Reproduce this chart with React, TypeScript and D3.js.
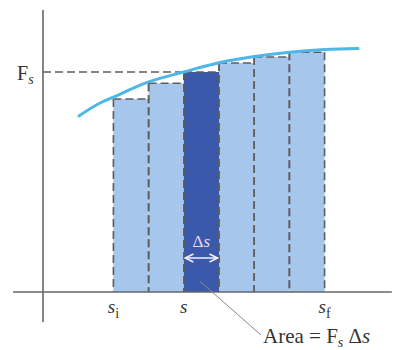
import React from "react";
import * as d3 from "d3";

// ---- data ----
const barStarts = [2, 3, 4, 5, 6, 7];
const barHeights = [8.77, 9.49, 10, 10.41, 10.68, 10.9];
const highlightIndex = 2;
const barWidth = 1;
const curveS = [1.02, 1.62, 2, 3, 4, 5, 6, 7, 8, 8.95];
const curveF = [8.0, 8.59, 8.86, 9.55, 10.0, 10.42, 10.7, 10.9, 11.02, 11.07];
const tickS = [2, 4, 8];
const tickMain = ["s", "s", "s"];
const tickSub = ["i", "", "f"];
const Fs = 10;

const W = 397;
const H = 350;

export default function App() {
  const x = d3.scaleLinear().domain([0, 1]).range([43, 78.2]);
  const y = d3.scaleLinear().domain([0, 10]).range([292, 72]);

  const line = d3
    .line<number>()
    .x((_, i) => x(curveS[i]))
    .y((d) => y(d))
    .curve(d3.curveMonotoneX);

  const dash = "8,4";
  const dashColor = "#5d5d5d";
  const serif = "'Liberation Serif', 'DejaVu Serif', serif";

  const hs = barStarts[highlightIndex];
  const arrowY = 258;
  const ax1 = x(hs) + 1.5;
  const ax2 = x(hs + barWidth) - 1.5;

  return (
    <svg
      width={W}
      height={H}
      style={{ position: "absolute", left: 0, top: 0, background: "#fff" }}
      fontFamily={serif}
    >
      {/* bars */}
      {barStarts.map((s, i) => (
        <rect
          key={"b" + i}
          x={x(s)}
          y={y(barHeights[i])}
          width={x(s + barWidth) - x(s)}
          height={y(0) - y(barHeights[i])}
          fill={i === highlightIndex ? "#3b59ab" : "#a6c6eb"}
        />
      ))}
      {/* dashed outlines */}
      {barStarts.map((s, i) => (
        <g key={"o" + i} stroke={dashColor} strokeWidth={1.6} strokeDasharray={dash} fill="none">
          <line x1={x(s)} x2={x(s + barWidth)} y1={y(barHeights[i])} y2={y(barHeights[i])} />
          <line x1={x(s)} x2={x(s)} y1={y(barHeights[i])} y2={y(0)} />
          <line
            x1={x(s + barWidth)}
            x2={x(s + barWidth)}
            y1={y(Math.max(barHeights[i], barHeights[i + 1] ?? 0))}
            y2={y(0)}
          />
        </g>
      ))}
      {/* Fs dashed line */}
      <line
        x1={x(0)}
        x2={x(hs)}
        y1={y(Fs)}
        y2={y(Fs)}
        stroke={dashColor}
        strokeWidth={1.6}
        strokeDasharray={dash}
      />
      {/* axes */}
      <line x1={x(-0.85)} x2={x(9.91)} y1={y(0)} y2={y(0)} stroke="#666" strokeWidth={1.6} />
      <line x1={x(0)} x2={x(0)} y1={y(12.82)} y2={y(-1.36)} stroke="#666" strokeWidth={1.6} />
      {/* curve */}
      <path d={line(curveF) || ""} fill="none" stroke="#4db7e8" strokeWidth={3} strokeLinecap="round" />
      {/* delta s arrow */}
      <g stroke="#f4f0fa" strokeWidth={1.6} fill="none">
        <line x1={ax1} x2={ax2} y1={arrowY} y2={arrowY} />
        <polyline points={`${ax1 + 8},${arrowY - 4} ${ax1},${arrowY} ${ax1 + 8},${arrowY + 4}`} />
        <polyline points={`${ax2 - 8},${arrowY - 4} ${ax2},${arrowY} ${ax2 - 8},${arrowY + 4}`} />
      </g>
      <text x={x(hs + barWidth / 2)} y={247} textAnchor="middle" fontSize={17} fill="#ead8f2">
        Δ<tspan fontStyle="italic">s</tspan>
      </text>
      {/* Fs label */}
      <text x={17} y={80} fontSize={20} fill="#333">
        F
        <tspan fontStyle="italic" fontSize={14} dy={4}>
          s
        </tspan>
      </text>
      {/* tick labels */}
      {tickS.map((s, i) => (
        <text key={"t" + i} x={x(s)} y={313} textAnchor="middle" fontSize={19} fill="#333">
          <tspan fontStyle="italic">{tickMain[i]}</tspan>
          {tickSub[i] && (
            <tspan fontSize={14} dy={5}>
              {tickSub[i]}
            </tspan>
          )}
        </text>
      ))}
      {/* leader line + area label */}
      <line x1={x(4.45)} y1={y(0.5)} x2={261} y2={335} stroke="#888" strokeWidth={1} />
      <text x={263} y={343} fontSize={21} fill="#333">
        Area = F
        <tspan fontStyle="italic" fontSize={14} dy={4}>
          s
        </tspan>
        <tspan dy={-4}> Δ</tspan>
        <tspan fontStyle="italic">s</tspan>
      </text>
    </svg>
  );
}
